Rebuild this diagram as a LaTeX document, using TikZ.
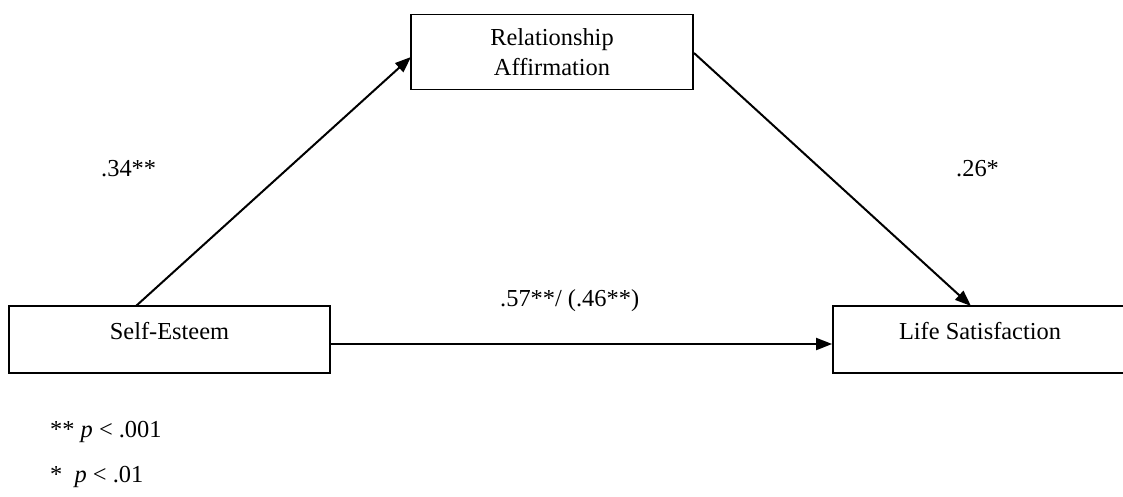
\documentclass[tikz,border=0pt]{standalone}
\usepackage{fontspec}
\setmainfont{Liberation Serif}
\usetikzlibrary{arrows.meta}
\tikzset{
  box/.style={draw, line width=1.8pt, inner sep=0pt, align=center,
    font=\fontsize{24.4}{29.5}\selectfont},
  onebox/.style={box, text height=33pt, text depth=34pt},
  conn/.style={line width=2pt, -{Triangle[length=16pt,width=12pt]}},
  lbl/.style={font=\fontsize{24.4}{29.5}\selectfont, inner sep=0pt},
}
\begin{document}
\begin{tikzpicture}[x=1pt,y=-1pt]
\useasboundingbox (0,0) rectangle (1123,496);
\node[box, minimum width=282pt, minimum height=75pt] (ra) at (552,52) {Relationship\\Affirmation};
\node[onebox, minimum width=321pt] (se) at (169.5,339.5) {Self-Esteem};
\node[onebox, minimum width=294pt] (ls) at (980,339.5) {Life Satisfaction};
\coordinate (seTop) at (136,306);
\coordinate (raL) at (411,57);
\coordinate (raR) at (694,53);
\coordinate (lsTop) at (971,306);
\draw[conn] (seTop) -- (raL);
\draw[conn] (raR) -- (lsTop);
\draw[conn] (se.east |- 0,344) -- (ls.west |- 0,344);
\node[lbl, anchor=base west] (a) at (101,176) {.34**};
\node[lbl, anchor=base west] (b) at (956,176) {.26*};
\node[lbl, anchor=base west] (c) at (500,306) {.57**/ (.46**)};
\node[lbl, anchor=base west] (n1) at (50,437) {** \textit{p} < .001};
\node[lbl, anchor=base west] (n2) at (50,482) {*\ \ \textit{p} < .01};
\end{tikzpicture}
\end{document}
